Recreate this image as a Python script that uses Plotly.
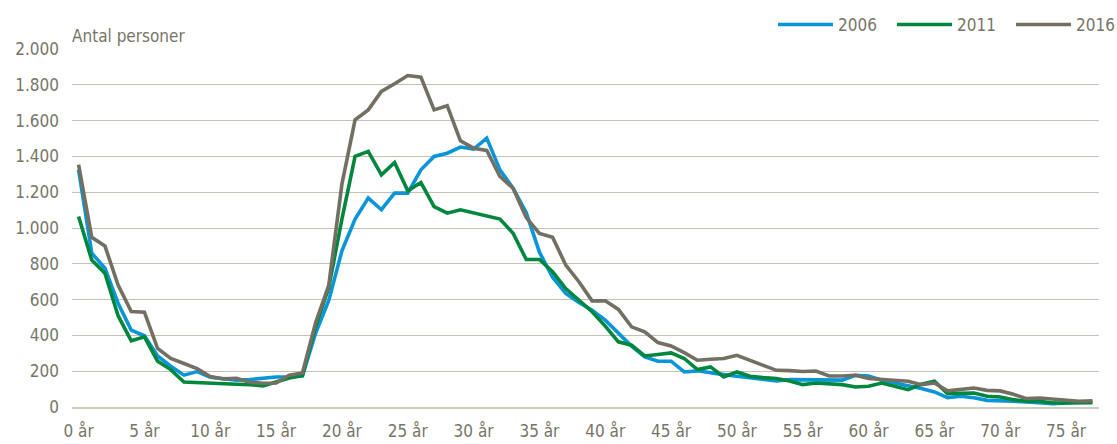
import plotly.graph_objects as go

ages = list(range(0, 78))
tick_vals = list(range(0, 80, 5))
tick_text = [f"{v} år" for v in tick_vals]

y2006 = [1325, 860, 775, 580, 430, 398, 285, 228, 178, 198,
         166, 159, 150, 153, 162, 168, 168, 173, 412, 595,
         872, 1050, 1167, 1102, 1195, 1195, 1325, 1400, 1418, 1452,
         1441, 1502, 1325, 1223, 1085, 865, 725, 634, 584, 541,
         485, 410, 340, 280, 256, 256, 196, 202, 190, 181,
         172, 162, 150, 145, 153, 153, 149, 149, 150, 177,
         173, 149, 134, 121, 103, 84, 52, 60, 52, 37,
         32, 32, 28, 24, 19, 22, 28, 28]

y2011 = [1064, 821, 747, 510, 370, 392, 256, 209, 140, 136,
         131, 127, 127, 125, 118, 140, 162, 176, 450, 668,
         1050, 1400, 1428, 1297, 1366, 1208, 1254, 1120, 1083, 1102,
         1083, 1064, 1050, 971, 824, 824, 756, 662, 597, 532,
         452, 364, 345, 285, 293, 302, 271, 209, 224, 168,
         196, 172, 164, 159, 145, 125, 134, 130, 125, 112,
         116, 134, 116, 97, 127, 144, 75, 78, 78, 60,
         56, 41, 32, 32, 22, 22, 24, 24]

y2016 = [1354, 948, 900, 681, 533, 530, 327, 271, 243, 215,
         170, 157, 160, 138, 133, 134, 177, 190, 470, 680,
         1245, 1604, 1660, 1763, 1806, 1852, 1843, 1660, 1683, 1487,
         1446, 1433, 1288, 1222, 1058, 970, 948, 793, 700, 593,
         593, 545, 448, 420, 360, 341, 304, 261, 267, 271,
         289, 261, 237, 205, 203, 198, 201, 173, 173, 177,
         159, 153, 149, 144, 125, 134, 90, 99, 106, 93,
         90, 71, 47, 50, 43, 35, 32, 34]

series = [("2006", y2006, "#0A95D8"), ("2011", y2011, "#00873D"), ("2016", y2016, "#736F62")]

FONT = "Liberation Sans Narrow, DejaVu Sans Condensed, Arial Narrow, sans-serif"
TXT = "#787568"
FS = 17

fig = go.Figure()
for name, ys, col in series:
    fig.add_trace(go.Scatter(x=ages, y=ys, name=name, mode="lines",
                             line=dict(color=col, width=3.6)))

fig.update_layout(
    width=1117, height=444,
    margin=dict(l=72, r=18, t=49, b=37, autoexpand=False),
    paper_bgcolor="white", plot_bgcolor="white",
    separators=",.",
    font=dict(family=FONT, size=FS, color=TXT),
    showlegend=True,
    legend=dict(orientation="h", xref="container", yref="container",
                x=773 / 1117, xanchor="left", y=1 - 25 / 444, yanchor="middle",
                font=dict(family=FONT, size=FS, color=TXT), itemwidth=55,
                entrywidth=49, entrywidthmode="pixels",
                bgcolor="rgba(0,0,0,0)", tracegroupgap=0),
    annotations=[dict(text="Antal personer", xref="paper", yref="paper",
                      x=0, y=1.0, xanchor="left", yanchor="bottom", yshift=1, xshift=-2,
                      showarrow=False, font=dict(family=FONT, size=FS, color=TXT))],
)

fig.update_xaxes(range=[-0.5, 77.5], tickmode="array", tickvals=tick_vals, ticktext=tick_text,
                 showgrid=False, zeroline=False, showline=True, linecolor="#CDCCC2", linewidth=2,
                 automargin=False,
                 ticks="", ticklabelstandoff=8, tickfont=dict(family=FONT, size=FS, color=TXT))
fig.update_yaxes(range=[0, 2000], dtick=200, tickformat=",d", showgrid=True,
                 gridcolor="#C3C1B3", gridwidth=1.3, zeroline=False, showline=False,
                 automargin=False,
                 ticks="", ticklabelstandoff=12, tickfont=dict(family=FONT, size=FS, color=TXT))

fig.write_html("out.html", config={"displayModeBar": False},
               post_script="document.body.style.margin='0';document.body.style.overflow='hidden';")
